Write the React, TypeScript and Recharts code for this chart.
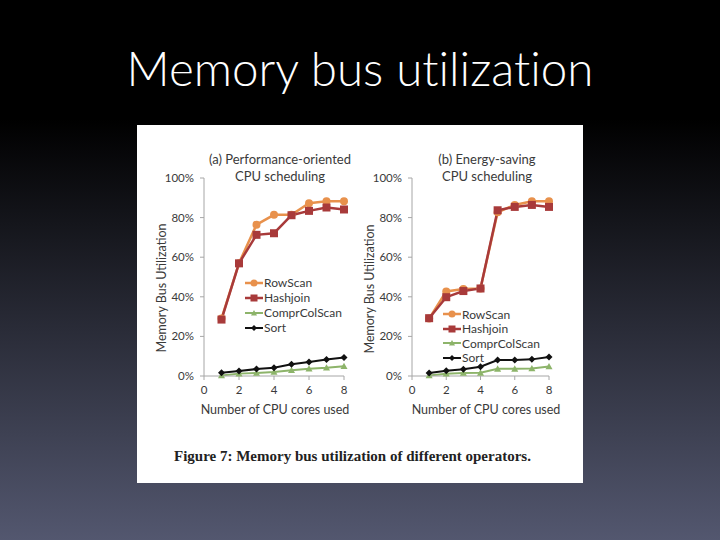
import React from 'react'
import { LineChart, Line, XAxis, YAxis, Legend } from 'recharts'

// values (percent of memory bus bandwidth)
const cores = [1, 2, 3, 4, 5, 6, 7, 8]
const perfRowScan = [29, 57, 76.4, 81.4, 81.4, 87.3, 88.2, 88.2]
const perfHashjoin = [28.5, 56.9, 71.3, 72.1, 81.2, 83.4, 85.1, 84.1]
const perfCompr = [0.3, 1.2, 1.5, 2, 2.9, 3.7, 4.2, 4.9]
const perfSort = [1.7, 2.5, 3.5, 4.2, 5.9, 7.1, 8.3, 9.3]
const energyRowScan = [29, 42.7, 43.9, 44.2, 82.7, 86.4, 88.3, 88.3]
const energyHashjoin = [29.2, 39.8, 42.9, 44.2, 83.7, 85.4, 86.4, 85.4]
const energyCompr = [0.3, 1.1, 1.5, 1.6, 3.6, 3.6, 3.8, 4.8]
const energySort = [1.5, 2.7, 3.4, 4.7, 8.1, 8.1, 8.4, 9.6]

const xTicks = [0, 2, 4, 6, 8]
const yTicks = [0, 20, 40, 60, 80, 100]
const seriesNames = ['RowScan', 'Hashjoin', 'ComprColScan', 'Sort']

const SERIES: Record<string, { color: string; marker: string; width: number; size: number }> = {
  RowScan: { color: '#E8914C', marker: 'circle', width: 2.5, size: 8 },
  Hashjoin: { color: '#A83A3A', marker: 'square', width: 2.5, size: 8 },
  ComprColScan: { color: '#8DB46A', marker: 'triangle', width: 2, size: 7 },
  Sort: { color: '#111111', marker: 'diamond', width: 2, size: 7 },
}

const FONT = 'Lato, "Open Sans", sans-serif'
const AXIS_GREY = '#a6a6a6'
const TEXT = '#3a3a3a'

function buildRows(rowScan: number[], hashjoin: number[], compr: number[], sort: number[]) {
  return cores.map((c, i) => ({
    cores: c,
    RowScan: rowScan[i],
    Hashjoin: hashjoin[i],
    ComprColScan: compr[i],
    Sort: sort[i],
  }))
}

const perfRows = buildRows(perfRowScan, perfHashjoin, perfCompr, perfSort)
const energyRows = buildRows(energyRowScan, energyHashjoin, energyCompr, energySort)

function Marker({ cx, cy, kind, color, size }: { cx: number; cy: number; kind: string; color: string; size: number }) {
  const h = size / 2
  if (kind === 'circle') return <circle cx={cx} cy={cy} r={h} fill={color} />
  if (kind === 'square') return <rect x={cx - h} y={cy - h} width={size} height={size} fill={color} />
  if (kind === 'triangle')
    return <polygon points={`${cx},${cy - h} ${cx + h},${cy + h * 0.8} ${cx - h},${cy + h * 0.8}`} fill={color} />
  return <polygon points={`${cx},${cy - h} ${cx + h},${cy} ${cx},${cy + h} ${cx - h},${cy}`} fill={color} />
}

function LegendBox({ rowGap }: { rowGap: number }) {
  return (
    <div style={{ fontFamily: FONT, fontSize: 12, color: TEXT }}>
      {seriesNames.map((name) => {
        const s = SERIES[name]
        return (
          <div key={name} style={{ display: 'flex', alignItems: 'center', height: rowGap, whiteSpace: 'nowrap' }}>
            <svg width={18} height={10} style={{ marginRight: 1 }}>
              <line x1={0} y1={5} x2={18} y2={5} stroke={s.color} strokeWidth={s.width} />
              <Marker cx={9} cy={5} kind={s.marker} color={s.color} size={s.size - 1} />
            </svg>
            <span>{name}</span>
          </div>
        )
      })}
    </div>
  )
}

function Panel({ rows, right, legendPos, rowGap }: { rows: any[]; right: number; legendPos: { left: number; top: number }; rowGap: number }) {
  return (
    <LineChart width={220} height={300} data={rows} margin={{ top: 53, right, bottom: 19, left: 20 }}>
      <XAxis
        dataKey="cores"
        type="number"
        domain={[0, 8]}
        ticks={xTicks}
        stroke={AXIS_GREY}
        tickSize={4}
        tickMargin={6}
        height={30}
        tick={{ fill: TEXT, fontSize: 11.5, fontFamily: FONT }}
      />
      <YAxis
        type="number"
        domain={[0, 100]}
        ticks={yTicks}
        width={47}
        stroke={AXIS_GREY}
        tickSize={4}
        tickMargin={6}
        tickFormatter={(v) => `${v}%`}
        tick={{ fill: TEXT, fontSize: 11.5, fontFamily: FONT }}
      />
      <Legend
        layout="vertical"
        align="center"
        verticalAlign="middle"
        wrapperStyle={{ left: legendPos.left, top: legendPos.top, width: 110 }}
        content={() => <LegendBox rowGap={rowGap} />}
      />
      {seriesNames.map((name) => {
        const s = SERIES[name]
        return (
          <Line
            key={name}
            dataKey={name}
            type="linear"
            stroke={s.color}
            strokeWidth={s.width}
            isAnimationActive={false}
            dot={(p: any) => (
              <Marker key={`${name}-${p.index}`} cx={p.cx} cy={p.cy} kind={s.marker} color={s.color} size={s.size} />
            )}
            activeDot={false}
          />
        )
      })}
    </LineChart>
  )
}

const abs = (left: number, top: number): React.CSSProperties => ({ position: 'absolute', left, top })

export default function App() {
  const labelStyle: React.CSSProperties = { fontFamily: FONT, fontSize: 12.5, color: TEXT, whiteSpace: 'nowrap' }
  const titleStyle: React.CSSProperties = { ...labelStyle, fontSize: 13, textAlign: 'center', lineHeight: '17px', width: 200 }
  const yLabel = (cx: number, cy: number) => (
    <div style={{ ...abs(cx - 80, cy - 9), ...labelStyle, width: 160, height: 18, lineHeight: '18px', textAlign: 'center', transform: 'rotate(-90deg)' }}>
      Memory Bus Utilization
    </div>
  )
  const xLabel = (cx: number) => (
    <div style={{ ...abs(cx - 90, 401), ...labelStyle, width: 180, textAlign: 'center', lineHeight: '18px' }}>
      Number of CPU cores used
    </div>
  )

  return (
    <div
      style={{
        position: 'absolute',
        left: 0,
        top: 0,
        width: 720,
        height: 540,
        overflow: 'hidden',
        background: 'linear-gradient(to bottom, #000 0%, #000 22%, #53576f 100%)',
      }}
    >
      <div
        style={{
          ...abs(0, 40),
          width: 720,
          textAlign: 'center',
          color: '#fff',
          fontFamily: FONT,
          fontWeight: 300,
          fontSize: 47.5,
          lineHeight: '56px',
          fontVariantLigatures: 'none',
          fontFeatureSettings: '"liga" 0, "dlig" 0',
        }}
      >
        Memory bus utilization
      </div>

      <div style={{ ...abs(137, 125), width: 446, height: 358, background: '#fff' }} />

      <div style={abs(137, 125)}>
        <Panel rows={perfRows} right={13} legendPos={{ left: 108, top: 150 }} rowGap={15} />
      </div>
      <div style={abs(345, 125)}>
        <Panel rows={energyRows} right={16} legendPos={{ left: 98, top: 182 }} rowGap={14.5} />
      </div>

      <div style={{ ...abs(180, 151), ...titleStyle }}>
        (a) Performance-oriented
        <br />
        CPU scheduling
      </div>
      <div style={{ ...abs(387, 151), ...titleStyle }}>
        (b) Energy-saving
        <br />
        CPU scheduling
      </div>

      {yLabel(162, 288)}
      {yLabel(370, 289)}
      {xLabel(275)}
      {xLabel(486)}

      <div
        style={{
          ...abs(174, 448),
          fontFamily: '"Liberation Serif", "Times New Roman", serif',
          fontWeight: 700,
          fontSize: 15,
          color: '#222',
          whiteSpace: 'nowrap',
        }}
      >
        Figure 7: Memory bus utilization of different operators.
      </div>
    </div>
  )
}
